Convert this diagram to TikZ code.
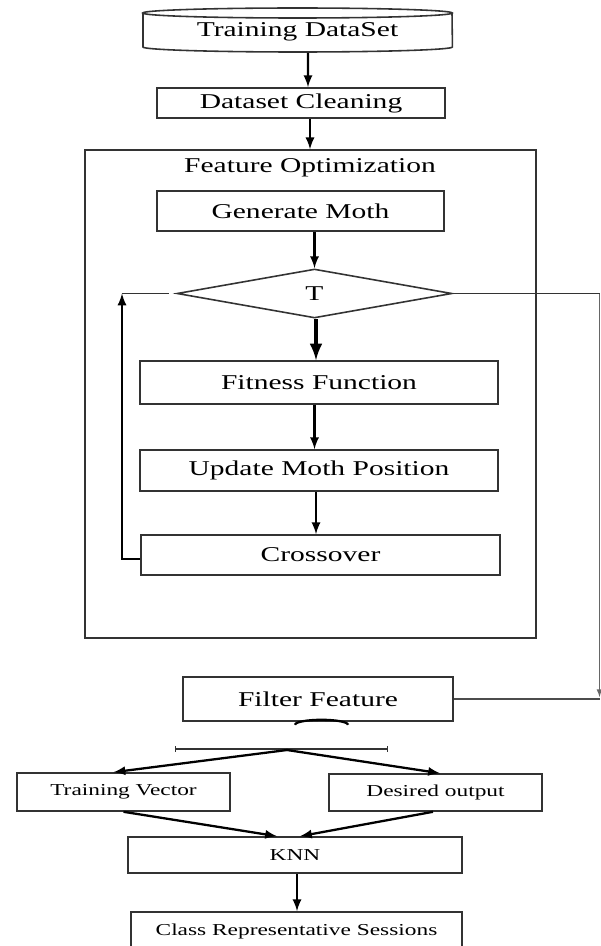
\documentclass[tikz,border=0pt]{standalone}
\usepackage{fontspec}
\setmainfont{Liberation Serif}[FakeStretch=1.4]
\usetikzlibrary{shapes,arrows,positioning,calc,arrows.meta}

\tikzset{
  block/.style={draw=black!80, line width=0.9pt, rectangle, inner sep=0pt, font=\fontsize{12}{14}\selectfont},
  smallblock/.style={block, font=\fontsize{9.5}{11}\selectfont},
  flow/.style={->, line width=1.3pt},
}

\begin{document}
\begin{tikzpicture}[auto, >=latex, thick, x=0.02cm, y=-0.02cm]
    \useasboundingbox (0,0) rectangle (601,946);

    % Training data store
    \node [block, draw=none, minimum width=6.18cm, minimum height=0.8cm] (data) at (297.5,32) {Training DataSet};
    \draw [black!80, line width=0.9pt] (143,13) -- (143,47) arc[start angle=180, end angle=360, x radius=3.095cm, y radius=0.1cm] -- (452,13);
    \draw [black!80, line width=0.9pt] (297.5,13) ellipse [x radius=3.095cm, y radius=0.1cm];

    \node [block, minimum width=5.76cm, minimum height=0.6cm] (clean) at (301,103) {Dataset Cleaning};
    \draw [flow] ([xshift=0.21cm]data.south) -- ([xshift=0.14cm]clean.north);

    % Feature optimization loop
    \node [block, minimum width=9.02cm, minimum height=9.76cm] (fobox) at (310.5,394) {};
    \node [font=\fontsize{12}{14}\selectfont] (folabel) at (310,168) {Feature Optimization};
    \draw [flow] ([xshift=0.18cm]clean.south) -- ([xshift=0.18cm]clean.south |- fobox.north);

    \node [block, minimum width=5.74cm, minimum height=0.8cm] (gen) at (300.5,211) {Generate Moth};
    \node [block, diamond, minimum width=5.5cm, minimum height=0.98cm] (T) at (314.5,293.5) {T};
    \node [block, minimum width=7.16cm, minimum height=0.86cm] (fit) at (319,382.5) {Fitness Function};
    \node [block, minimum width=7.16cm, minimum height=0.82cm] (upd) at (319,470.5) {Update Moth Position};
    \node [block, minimum width=7.18cm, minimum height=0.8cm] (cross) at (320.5,555) {Crossover};

    \draw [flow] (gen.south -| T.north) -- (T.north);
    \draw [->, line width=2.2pt] ([xshift=0.03cm]T.south) -- ([xshift=0.03cm]T.south |- fit.north);
    \draw [flow] (fit.south -| T.south) -- (upd.north -| T.south);
    \draw [flow] ([xshift=0.03cm]upd.south -| T.south) -- ([xshift=0.03cm]cross.north -| T.south);

    % back to the test
    \coordinate (loop) at (122,293.5);
    \draw [flow] ([yshift=-0.08cm]cross.west) -| (loop);
    \draw [black!80] (loop) -- ([xshift=-0.14cm]T.west);

    % Filter and exit of the loop
    \node [block, minimum width=5.4cm, minimum height=0.88cm] (filter) at (318,699) {Filter Feature};
    \coordinate (exit) at (599.5,697);
    \draw [black!80, line width=0.9pt] (T.east) -- (T.east -| exit);
    \draw [->, black!60, line width=0.5pt] (T.east -| exit) -- (exit);
    \draw [black!70, line width=0.9pt] (filter.east) -- (exit |- filter.east);
    \draw [line width=1.3pt] ([xshift=-0.46cm, yshift=-0.06cm]filter.south) arc[start angle=180, end angle=0, x radius=0.53cm, y radius=0.1cm];

    % Split
    \coordinate (barL) at (175,749);
    \coordinate (barR) at (388,749);
    \coordinate (split) at (287,750);
    \draw [black!80, {Bar[width=3pt]}-{Bar[width=3pt]}] (barL) -- (barR);

    \node [smallblock, minimum width=4.26cm, minimum height=0.76cm] (tv) at (123.5,792) {Training Vector};
    \node [smallblock, minimum width=4.26cm, minimum height=0.74cm] (dout) at (435.5,792.5) {Desired output};
    \draw [flow] (split) -- ([xshift=-0.2cm]tv.north);
    \draw [flow] (split) -- ([xshift=0.09cm]dout.north);

    % Classifier
    \node [smallblock, minimum width=6.68cm, minimum height=0.72cm] (knn) at (295,855) {KNN};
    \node [smallblock, minimum width=6.62cm, minimum height=0.76cm] (crs) at (296.5,931) {Class Representative Sessions};
    \draw [flow] (tv.south) -- ([xshift=-0.36cm]knn.north);
    \draw [flow] ([xshift=-0.05cm]dout.south) -- ([xshift=0.1cm]knn.north);
    \draw [flow] ([xshift=0.04cm]knn.south) -- ([xshift=0.04cm]knn.south |- crs.north);
\end{tikzpicture}
\end{document}
